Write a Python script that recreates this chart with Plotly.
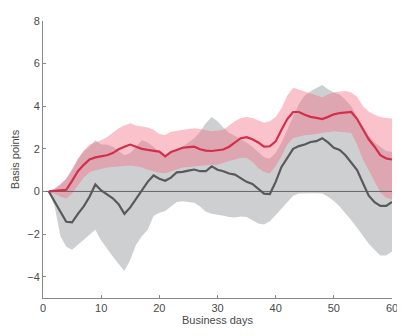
import plotly.graph_objects as go

days = list(range(1, 61))

red_mean = [0, 0.02, 0.05, 0.08, 0.5, 0.95, 1.25, 1.5, 1.6, 1.65,
            1.7, 1.8, 1.98, 2.1, 2.2, 2.1, 2.0, 1.95, 1.9, 1.87,
            1.65, 1.85, 1.95, 2.05, 2.08, 2.1, 1.98, 1.92, 1.9, 1.92,
            1.97, 2.1, 2.3, 2.5, 2.55, 2.45, 2.3, 2.1, 2.12, 2.35,
            2.9, 3.4, 3.73, 3.73, 3.6, 3.5, 3.45, 3.4, 3.5, 3.62,
            3.68, 3.72, 3.73, 3.4, 2.9, 2.45, 2.1, 1.7, 1.55, 1.5]
red_upper = [0, 0.15, 0.35, 0.6, 1.05, 1.55, 1.9, 2.2, 2.3, 2.4,
             2.55, 2.75, 2.97, 3.1, 3.2, 3.1, 3.04, 3.0, 2.9, 2.7,
             2.65, 2.8, 2.85, 2.9, 2.95, 2.97, 2.93, 2.88, 2.82, 2.85,
             2.9, 3.1, 3.3, 3.45, 3.5, 3.45, 3.35, 3.23, 3.3, 3.5,
             3.9, 4.5, 4.87, 4.78, 4.68, 4.62, 4.5, 4.42, 4.55, 4.64,
             4.68, 4.72, 4.65, 4.45, 4.0, 3.75, 3.6, 3.5, 3.45, 3.42]
red_lower = [0, -0.1, -0.25, -0.33, -0.1, 0.3, 0.65, 0.9, 1.0, 1.05,
             1.12, 1.15, 1.18, 1.2, 1.22, 1.18, 1.12, 1.02, 0.95, 0.88,
             0.85, 0.95, 1.05, 1.12, 1.15, 1.18, 1.2, 1.22, 1.25, 1.25,
             1.35, 1.43, 1.5, 1.58, 1.58, 1.4, 1.1, 0.91, 0.84, 1.2,
             1.65, 2.2, 2.51, 2.58, 2.64, 2.66, 2.7, 2.74, 2.78, 2.82,
             2.8, 2.77, 2.74, 2.2, 1.5, 1.0, 0.5, -0.05, -0.3, -0.38]

gray_mean = [0, -0.45, -0.95, -1.42, -1.45, -1.05, -0.7, -0.25, 0.33, 0.05,
             -0.15, -0.32, -0.6, -1.05, -0.75, -0.35, 0.1, 0.45, 0.75, 0.6,
             0.5, 0.65, 0.9, 0.92, 0.98, 1.03, 0.95, 0.95, 1.18, 1.02,
             0.95, 0.84, 0.79, 0.62, 0.45, 0.35, 0.12, -0.1, -0.12, 0.45,
             1.15, 1.6, 2.0, 2.13, 2.2, 2.32, 2.36, 2.5, 2.3, 2.05,
             1.95, 1.7, 1.35, 1.0, 0.4, -0.2, -0.5, -0.68, -0.68, -0.49]
gray_upper = [0, 0.1, 0.3, 0.6, 1.0, 1.5, 1.9, 2.1, 2.4, 2.2,
              2.2, 2.1, 1.9, 1.7, 1.8, 2.1, 2.4, 2.3, 2.1, 1.8,
              1.7, 1.8, 2.0, 2.1, 2.3, 2.5, 2.8, 3.2, 3.5, 3.3,
              3.0, 2.75, 2.6, 2.45, 2.3, 2.1, 1.85, 1.6, 1.55, 1.8,
              2.3, 2.9, 3.5, 4.1, 4.5, 4.7, 4.85, 5.0, 4.8, 4.65,
              4.55, 4.3, 4.0, 3.5, 3.0, 2.6, 2.3, 2.1, 1.9, 1.85]
gray_lower = [0, -0.7, -2.1, -2.6, -2.74, -2.5, -2.3, -2.05, -1.8, -2.3,
              -2.7, -3.05, -3.4, -3.73, -3.2, -2.5, -2.1, -1.8, -1.15, -1.0,
              -0.92, -0.7, -0.5, -0.46, -0.5, -0.53, -0.7, -0.95, -1.05, -1.08,
              -1.14, -1.2, -1.22, -1.18, -1.2, -1.35, -1.5, -1.55, -1.4, -1.1,
              -0.8, -0.45, -0.2, -0.1, -0.08, -0.08, -0.08, -0.1, -0.25, -0.45,
              -0.7, -1.0, -1.35, -1.7, -2.1, -2.45, -2.74, -3.0, -3.0, -2.82]

zero_x = [0, 60]
zero_y = [0, 0]

x_ticks = [0, 10, 20, 30, 40, 50, 60]
y_ticks = [-4, -2, 0, 2, 4, 6, 8]

fig = go.Figure()

# gray band
fig.add_trace(go.Scatter(x=days, y=gray_upper, mode="lines", line=dict(width=0),
                         showlegend=False, hoverinfo="skip"))
fig.add_trace(go.Scatter(x=days, y=gray_lower, mode="lines", line=dict(width=0),
                         fill="tonexty", fillcolor="rgb(206,207,209)",
                         showlegend=False, hoverinfo="skip"))
# red band
fig.add_trace(go.Scatter(x=days, y=red_upper, mode="lines", line=dict(width=0),
                         showlegend=False, hoverinfo="skip"))
fig.add_trace(go.Scatter(x=days, y=red_lower, mode="lines", line=dict(width=0),
                         fill="tonexty", fillcolor="rgba(242,110,132,0.42)",
                         showlegend=False, hoverinfo="skip"))
# zero line
fig.add_trace(go.Scatter(x=zero_x, y=zero_y, mode="lines",
                         line=dict(color="#666666", width=1),
                         showlegend=False, hoverinfo="skip"))
# lines
fig.add_trace(go.Scatter(x=days, y=gray_mean, mode="lines",
                         line=dict(color="#58595b", width=2.2),
                         showlegend=False))
fig.add_trace(go.Scatter(x=days, y=red_mean, mode="lines",
                         line=dict(color="#d42e4c", width=2.2),
                         showlegend=False))

axis_font = dict(family="Liberation Sans, Arial, sans-serif", size=11, color="#4a4a4a")

fig.update_layout(
    width=397, height=328,
    margin=dict(l=31, r=7, t=8, b=38),
    paper_bgcolor="white", plot_bgcolor="white",
    font=axis_font,
    showlegend=False,
)
fig.update_xaxes(range=[0, 60], tickvals=x_ticks, ticks="inside", ticklen=3,
                 tickcolor="#888888", showline=True, linecolor="#888888", linewidth=1,
                 showgrid=False, zeroline=False, tickfont=axis_font,
                 title=dict(text="Business days", standoff=3, font=axis_font))
fig.update_yaxes(range=[-5, 8], tickvals=y_ticks, ticks="inside", ticklen=3,
                 tickcolor="#888888", showline=True, linecolor="#888888", linewidth=1,
                 showgrid=False, zeroline=False, tickfont=axis_font,
                 title=dict(text="Basis points", standoff=5, font=axis_font))

fig.write_html("out.html")
